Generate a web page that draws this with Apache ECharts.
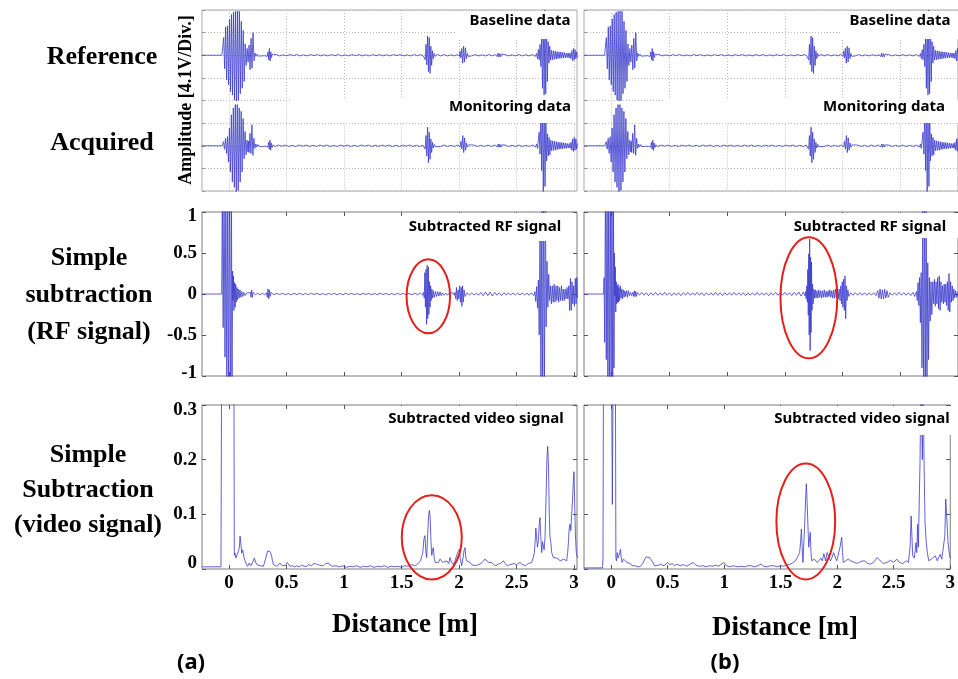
<!DOCTYPE html>
<html><head><meta charset="utf-8">
<script src="https://cdn.jsdelivr.net/npm/echarts@6/dist/echarts.min.js"></script>
<style>html,body{margin:0;padding:0;background:#fff}#c{width:958px;height:679px}</style>
</head><body><div id="c"></div>
<script>
// ---------------- data (x in metres) ----------------
const xTicks = [0, 0.5, 1, 1.5, 2, 2.5, 3];
const rfTicks = [-1, -0.5, 0, 0.5, 1];
const videoTicks = [0, 0.1, 0.2, 0.3];

// Baseline trace (amplitude in divisions)
const refSig = [[-0.24,0],[-0.062,0],[-0.055,0],[-0.0465,0.78],[-0.038,-0.6],[-0.0295,1.25],[-0.021,-1.1],[-0.0125,1.3],[-0.004,-1.3],[0.0045,1.6],[0.013,-1.6],[0.0215,1.8],[0.03,-1.76],[0.0385,1.9],[0.047,-1.98],[0.0555,1.94],[0.064,-2.06],[0.0725,1.95],[0.081,-2.0],[0.0895,1.94],[0.098,-1.7],[0.1065,1.5],[0.115,-1.46],[0.1235,1.1],[0.132,-1.16],[0.1405,0.5],[0.149,-0.45],[0.1575,0.3],[0.166,-0.3],[0.1745,0.45],[0.183,-0.64],[0.1915,0.75],[0.2,-0.57],[0.2085,1.0],[0.217,-0.25],[0.225,0.1],[0.234,-0.05],[0.245,0.05],[0.255,-0.04],[0.268,0.03],[0.282,-0.03],[0.296,0.03],[0.31,-0.02],[0.323,0.03],[0.333,-0.05],[0.339,0.15],[0.345,-0.2],[0.351,0.3],[0.357,-0.25],[0.363,0.15],[0.369,-0.1],[0.376,0.05],[0.386,-0.03],
[0.41,0.03],[0.44,-0.03],[0.47,0.02],[0.5,-0.03],[0.53,0.03],[0.56,-0.02],[0.59,0.03],[0.62,-0.03],[0.65,0.02],[0.68,-0.03],[0.71,0.03],[0.74,-0.02],[0.77,0.03],[0.8,-0.03],[0.83,0.02],[0.86,-0.03],[0.89,0.03],[0.92,-0.02],[0.95,0.03],[0.98,-0.03],[1.01,0.02],[1.04,-0.03],[1.07,0.03],[1.1,-0.02],[1.13,0.03],[1.16,-0.03],[1.19,0.02],[1.22,-0.03],[1.25,0.03],[1.28,-0.02],[1.31,0.03],[1.34,-0.03],[1.37,0.02],[1.4,-0.03],[1.43,0.03],[1.46,-0.02],[1.49,0.03],[1.52,-0.03],[1.55,0.02],[1.58,-0.03],[1.61,0.03],[1.64,-0.02],[1.67,0.03],[1.69,-0.03],
[1.7,0.05],[1.706,-0.2],[1.713,0.48],[1.72,-0.42],[1.727,0.85],[1.734,-0.72],[1.741,0.78],[1.748,-0.8],[1.755,0.4],[1.762,-0.45],[1.769,0.2],[1.776,-0.15],[1.784,0.08],[1.794,-0.05],[1.81,0.04],
[1.84,-0.03],[1.87,0.03],[1.9,-0.03],[1.93,0.02],[1.96,-0.03],[1.985,0.03],
[2.003,-0.05],[2.009,0.18],[2.016,-0.12],[2.024,0.3],[2.032,-0.35],[2.04,0.4],[2.048,-0.3],[2.056,0.33],[2.064,-0.15],[2.072,0.08],[2.08,-0.05],[2.09,0.03],
[2.11,-0.03],[2.14,0.03],[2.17,-0.03],[2.2,0.02],[2.23,-0.03],[2.26,0.03],[2.29,-0.03],[2.315,0.03],
[2.33,-0.06],[2.338,0.09],[2.346,-0.08],[2.354,0.08],[2.362,-0.07],[2.37,0.05],[2.38,-0.03],
[2.4,0.03],[2.43,-0.03],[2.46,0.02],[2.49,-0.03],[2.52,0.03],[2.55,-0.03],[2.58,0.02],[2.61,-0.03],[2.64,0.03],[2.665,-0.05],
[2.675,0.08],[2.682,-0.15],[2.69,0.25],[2.697,-0.2],[2.7045,0.48],[2.712,-0.5],[2.719,0.9],[2.726,-1.46],[2.733,1.6],[2.74,-1.76],[2.747,2.0],[2.754,-1.7],[2.761,1.6],[2.768,-1.16],[2.775,0.6],[2.782,-0.35],[2.789,0.4],
[2.797,-0.22],[2.805,0.22],[2.813,-0.2],[2.821,0.2],[2.829,-0.18],[2.837,0.18],[2.845,-0.17],[2.853,0.16],[2.861,-0.15],[2.869,0.15],[2.877,-0.14],[2.885,0.14],[2.893,-0.13],[2.901,0.13],[2.909,-0.12],[2.917,0.12],[2.925,-0.12],[2.933,0.1],[2.941,-0.1],[2.949,0.1],[2.957,-0.12],
[2.965,0.1],[2.973,-0.15],[2.981,0.2],[2.988,-0.25],[2.995,0.3],[3.002,-0.2],[3.009,0.25],[3.016,-0.15],[3.023,0.15],[3.03,-0.1]];

// Monitoring trace (amplitude in divisions)
const monSig = [[-0.24,0],[-0.06,0],[-0.056,0],[-0.0475,0.18],[-0.039,-0.15],[-0.0305,0.33],[-0.022,-0.34],[-0.0135,0.4],[-0.005,-0.72],[0.0035,0.78],[0.012,-1.16],[0.0205,1.37],[0.029,-1.6],[0.0375,1.67],[0.046,-1.84],[0.0545,1.82],[0.063,-2.06],[0.0715,1.82],[0.08,-1.97],[0.0885,1.67],[0.097,-1.6],[0.1055,1.52],[0.114,-1.16],[0.1225,1.2],[0.131,-0.57],[0.1395,0.63],[0.148,-0.4],[0.1565,0.25],[0.165,-0.27],[0.1695,0.2],[0.1735,-0.3],[0.182,0.55],[0.1905,-0.34],[0.199,0.93],[0.2075,-0.42],[0.216,0.33],[0.2245,-0.12],[0.233,0.08],[0.242,-0.05],[0.252,0.05],[0.262,-0.04],[0.275,0.03],[0.29,-0.03],[0.305,0.03],[0.318,-0.02],[0.33,0.03],[0.338,-0.06],[0.344,0.15],[0.35,-0.15],[0.356,0.25],[0.362,-0.2],[0.368,0.12],[0.374,-0.08],[0.382,0.04],
[0.4,-0.03],[0.43,0.03],[0.46,-0.02],[0.49,0.03],[0.52,-0.03],[0.55,0.02],[0.58,-0.03],[0.61,0.03],[0.64,-0.02],[0.67,0.03],[0.7,-0.03],[0.73,0.02],[0.76,-0.03],[0.79,0.03],[0.82,-0.02],[0.85,0.03],[0.88,-0.03],[0.91,0.02],[0.94,-0.03],[0.97,0.03],[1.0,-0.02],[1.03,0.03],[1.06,-0.03],[1.09,0.02],[1.12,-0.03],[1.15,0.03],[1.18,-0.02],[1.21,0.03],[1.24,-0.03],[1.27,0.02],[1.3,-0.03],[1.33,0.03],[1.36,-0.02],[1.39,0.03],[1.42,-0.03],[1.45,0.02],[1.48,-0.03],[1.51,0.03],[1.54,-0.02],[1.57,0.03],[1.6,-0.03],[1.63,0.02],[1.66,-0.03],[1.685,0.03],
[1.7,0.05],[1.706,-0.15],[1.713,0.45],[1.72,-0.45],[1.727,0.82],[1.734,-0.75],[1.741,0.6],[1.748,-0.6],[1.755,0.3],[1.762,-0.3],[1.769,0.15],[1.776,-0.1],[1.785,0.06],[1.795,-0.04],[1.81,0.03],
[1.84,-0.03],[1.87,0.03],[1.9,-0.03],[1.93,0.02],[1.96,-0.03],[1.99,0.03],
[2.01,-0.05],[2.017,0.2],[2.025,-0.15],[2.033,0.45],[2.041,-0.3],[2.049,0.35],[2.057,-0.2],[2.065,0.12],[2.073,-0.06],[2.083,0.04],
[2.1,-0.03],[2.13,0.03],[2.16,-0.03],[2.19,0.02],[2.22,-0.03],[2.25,0.03],[2.28,-0.03],[2.31,0.03],
[2.332,-0.05],[2.34,0.08],[2.348,-0.07],[2.356,0.07],[2.364,-0.06],[2.372,0.04],[2.382,-0.03],
[2.4,0.03],[2.43,-0.03],[2.46,0.02],[2.49,-0.03],[2.52,0.03],[2.55,-0.03],[2.58,0.02],[2.61,-0.03],[2.64,0.03],[2.665,-0.05],
[2.675,0.08],[2.682,-0.12],[2.689,0.2],[2.697,0.6],[2.7045,-0.37],[2.712,1.5],[2.719,-1.1],[2.726,2.0],[2.733,-2.2],[2.74,2.0],[2.748,-1.8],[2.755,1.5],[2.762,-0.67],[2.769,0.52],[2.776,-0.45],[2.783,0.37],[2.79,-0.4],
[2.798,0.25],[2.806,-0.22],[2.814,0.22],[2.822,-0.2],[2.83,0.2],[2.838,-0.2],[2.846,0.18],[2.854,-0.17],[2.862,0.16],[2.87,-0.15],[2.878,0.15],[2.886,-0.14],[2.894,0.14],[2.902,-0.13],[2.91,0.13],[2.918,-0.12],[2.926,0.12],[2.934,-0.12],[2.942,0.1],[2.95,-0.1],[2.958,0.1],[2.966,-0.12],
[2.974,0.15],[2.981,-0.2],[2.988,0.3],[2.995,-0.25],[3.002,0.37],[3.009,-0.2],[3.016,0.3],[3.023,-0.15],[3.03,0.1]];

// Subtracted RF signal, panel (a)
const rfA = [[-0.235,0],[-0.064,0],[-0.058,1.3],[-0.051,-0.41],[-0.043,1.4],[-0.035,-0.77],[-0.027,1.4],[-0.019,-1.4],[-0.011,1.4],[-0.003,-1.4],[0.005,1.4],[0.013,-1.4],[0.021,1.3],[0.026,-1.2],[0.031,0.28],[0.035,-0.08],[0.039,0.22],[0.043,-0.2],[0.048,0.14],[0.053,-0.16],[0.058,0.12],[0.063,-0.1],[0.069,0.08],[0.075,-0.07],[0.081,0.06],[0.088,-0.05],[0.095,0.05],[0.103,-0.04],[0.111,0.03],[0.12,-0.03],[0.13,0.02],[0.14,-0.02],[0.155,0.012],[0.17,-0.01],
[0.185,0.02],[0.191,-0.04],[0.197,0.05],[0.203,-0.04],[0.21,0.02],[0.23,-0.01],[0.25,0.01],[0.27,-0.01],[0.29,0.01],[0.31,-0.01],[0.325,0.015],
[0.333,-0.04],[0.339,0.06],[0.345,-0.06],[0.351,0.05],[0.357,-0.03],[0.365,0.02],
[0.39,-0.008],[0.415,0.008],[0.44,-0.006],[0.465,0.009],[0.49,-0.008],[0.515,0.006],[0.54,-0.009],[0.565,0.008],[0.59,-0.006],[0.615,0.008],[0.64,-0.009],[0.665,0.006],[0.69,-0.008],[0.715,0.009],[0.74,-0.006],[0.765,0.008],[0.79,-0.008],[0.815,0.006],[0.84,-0.009],[0.865,0.008],[0.89,-0.006],[0.915,0.008],[0.94,-0.009],[0.965,0.006],[0.99,-0.008],[1.015,0.009],[1.04,-0.006],[1.065,0.008],[1.09,-0.008],[1.115,0.006],[1.14,-0.009],[1.165,0.008],[1.19,-0.006],[1.215,0.008],[1.24,-0.009],[1.265,0.006],[1.29,-0.008],[1.315,0.009],[1.34,-0.006],[1.365,0.008],[1.39,-0.008],[1.415,0.006],[1.44,-0.009],[1.465,0.008],[1.49,-0.006],[1.515,0.008],[1.54,-0.009],[1.565,0.006],[1.59,-0.008],[1.615,0.01],[1.64,-0.01],[1.665,0.012],[1.685,-0.015],
[1.692,0.02],[1.698,-0.05],[1.703,0.26],[1.708,-0.16],[1.713,0.3],[1.718,-0.37],[1.723,0.35],[1.728,-0.3],[1.733,0.33],[1.738,-0.25],[1.743,0.15],[1.748,-0.16],[1.753,0.1],[1.758,-0.08],[1.764,0.06],[1.77,-0.05],[1.777,0.04],[1.785,-0.04],[1.795,0.03],[1.805,-0.03],[1.815,0.03],[1.825,-0.025],[1.835,0.025],[1.845,-0.02],
[1.855,0.015],[1.87,-0.015],[1.885,0.012],[1.9,-0.015],[1.915,0.012],[1.93,-0.012],[1.945,0.015],[1.958,-0.015],
[1.965,0.02],[1.972,-0.06],[1.978,0.08],[1.985,-0.08],[1.992,0.05],[1.999,-0.06],[2.006,0.1],[2.012,-0.1],[2.019,0.08],[2.025,-0.15],[2.031,0.1],[2.037,-0.1],[2.044,0.05],[2.052,-0.03],
[2.07,0.012],[2.09,-0.01],[2.11,0.012],[2.13,-0.012],[2.15,0.01],[2.17,-0.015],[2.19,0.02],[2.21,-0.02],[2.23,0.025],[2.25,-0.02],[2.27,0.025],[2.29,-0.025],[2.31,0.02],[2.33,-0.015],[2.35,0.015],[2.37,-0.02],[2.39,0.015],[2.41,-0.01],[2.43,0.012],[2.45,-0.01],[2.47,0.01],[2.49,-0.012],[2.51,0.01],[2.53,-0.01],[2.55,0.012],[2.57,-0.01],[2.59,0.01],[2.61,-0.015],[2.63,0.015],[2.65,-0.02],
[2.66,0.03],[2.6675,-0.09],[2.675,0.09],[2.6825,-0.17],[2.69,0.17],[2.6975,-0.5],[2.705,0.9],[2.7125,-1.3],[2.72,1.2],[2.7275,-1.3],[2.735,1.3],[2.7425,-1.3],[2.75,1.4],[2.7575,-0.4],[2.765,0.4],[2.7725,-0.16],[2.78,0.24],[2.787,-0.08],
[2.795,0.1],[2.803,-0.12],[2.811,0.1],[2.819,-0.1],[2.827,0.12],[2.835,-0.1],[2.843,0.1],[2.851,-0.08],[2.859,0.1],[2.867,-0.1],[2.875,0.08],[2.883,-0.08],[2.891,0.1],[2.899,-0.08],[2.907,0.06],[2.915,-0.08],[2.923,0.06],[2.931,-0.06],[2.939,0.08],[2.947,-0.06],[2.955,0.1],
[2.962,-0.2],[2.969,0.19],[2.976,-0.2],[2.983,0.15],[2.99,-0.12],[2.997,0.1],[3.004,-0.15],[3.011,0.19],[3.018,-0.12],[3.025,0.2],[3.03,-0.05]];

// Subtracted RF signal, panel (b)
const rfB = [[-0.24,0],[-0.07,0],[-0.066,0.2],[-0.061,-0.59],[-0.054,1.4],[-0.047,-0.8],[-0.04,1.4],[-0.033,-1.4],[-0.026,1.4],[-0.019,-1.4],[-0.012,1.4],[-0.005,-1.4],[0.002,1.4],[0.009,-1.4],[0.015,1.3],[0.02,-0.9],[0.024,0.5],[0.027,-0.02],[0.031,0.33],[0.035,-0.22],[0.039,0.15],[0.043,-0.12],[0.047,0.1],[0.051,-0.1],[0.055,0.12],[0.059,-0.1],[0.064,0.08],[0.069,-0.08],[0.075,0.1],[0.081,-0.05],[0.087,0.06],[0.093,-0.06],[0.1,0.05],[0.107,-0.04],[0.114,0.04],[0.121,-0.03],[0.129,0.04],[0.137,-0.04],[0.145,0.04],[0.153,-0.02],[0.163,0.02],[0.173,-0.02],[0.183,0.02],[0.19,-0.03],[0.196,0.04],[0.202,-0.03],[0.208,0.03],[0.214,-0.03],[0.222,0.02],
[0.24,-0.015],[0.26,0.02],[0.28,-0.015],[0.3,0.015],[0.32,-0.02],[0.34,0.015],[0.36,-0.015],[0.38,0.02],[0.4,-0.015],[0.42,0.015],[0.44,-0.015],[0.46,0.02],[0.48,-0.015],[0.5,0.015],[0.52,-0.02],[0.54,0.015],[0.56,-0.015],[0.58,0.015],[0.6,-0.02],[0.62,0.015],[0.64,-0.015],[0.66,0.02],[0.68,-0.015],[0.7,0.015],[0.72,-0.015],[0.74,0.02],[0.76,-0.015],[0.78,0.015],[0.8,-0.02],[0.82,0.015],[0.84,-0.015],[0.86,0.015],[0.88,-0.015],[0.9,0.02],[0.92,-0.015],[0.94,0.015],[0.96,-0.02],[0.98,0.015],[1.0,-0.015],[1.02,0.015],[1.04,-0.015],[1.06,0.02],[1.08,-0.015],[1.1,0.015],[1.12,-0.015],[1.14,0.015],[1.16,-0.02],[1.18,0.015],[1.2,-0.015],[1.22,0.015],[1.24,-0.015],[1.26,0.02],[1.28,-0.015],[1.3,0.015],[1.32,-0.015],[1.34,0.015],[1.36,-0.02],[1.38,0.015],[1.4,-0.015],[1.42,0.02],[1.44,-0.015],[1.46,0.015],[1.48,-0.015],[1.5,0.02],[1.52,-0.015],[1.54,0.015],[1.56,-0.02],[1.58,0.02],[1.6,-0.015],[1.62,0.025],[1.64,-0.025],[1.66,0.025],[1.675,-0.025],
[1.68,0.03],[1.685,-0.06],[1.69,0.1],[1.695,-0.1],[1.699,0.3],[1.703,-0.26],[1.707,0.49],[1.711,-0.5],[1.715,0.67],[1.719,-0.69],[1.723,0.45],[1.727,-0.47],[1.731,0.39],[1.735,-0.2],[1.74,0.12],[1.745,-0.12],[1.751,0.06],[1.757,-0.05],[1.763,0.05],[1.77,-0.05],[1.778,0.04],[1.786,-0.05],[1.794,0.05],[1.802,-0.04],[1.81,0.04],[1.818,-0.05],[1.826,0.04],[1.834,-0.04],[1.842,0.05],[1.85,-0.04],[1.858,0.03],[1.866,-0.04],[1.874,0.04],[1.882,-0.03],[1.89,0.05],[1.898,-0.04],[1.906,0.04],[1.914,-0.05],[1.922,0.05],[1.93,-0.05],[1.938,0.06],[1.946,-0.05],[1.954,0.06],[1.962,-0.06],
[1.97,0.06],[1.978,-0.08],[1.985,0.1],[1.991,-0.12],[1.997,0.15],[2.003,-0.16],[2.009,0.18],[2.015,-0.2],[2.021,0.22],[2.027,-0.3],[2.033,0.1],[2.039,-0.08],[2.046,0.05],[2.054,-0.03],
[2.07,0.015],[2.09,-0.015],[2.11,0.015],[2.13,-0.015],[2.15,0.015],[2.17,-0.015],[2.19,0.015],[2.21,-0.015],[2.23,0.015],[2.25,-0.015],[2.27,0.015],[2.29,-0.02],[2.305,0.04],[2.315,-0.05],[2.325,0.06],[2.335,-0.06],[2.345,0.05],[2.355,-0.06],[2.365,0.06],[2.375,-0.05],[2.385,0.04],[2.395,-0.04],[2.41,0.015],[2.43,-0.015],[2.45,0.015],[2.47,-0.015],[2.49,0.02],[2.51,-0.015],[2.53,0.015],[2.55,-0.015],[2.57,0.015],[2.59,-0.02],[2.61,0.02],[2.625,-0.03],
[2.64,0.03],[2.647,-0.08],[2.654,0.14],[2.661,-0.14],[2.667,0.2],[2.674,-0.35],[2.681,0.26],[2.688,-0.9],[2.695,1.2],[2.703,-1.3],[2.71,1.3],[2.717,-1.3],[2.724,1.3],[2.731,-1.1],[2.738,0.38],[2.745,-0.8],[2.752,0.2],[2.759,-0.33],[2.766,0.15],[2.773,-0.25],
[2.782,0.15],[2.789,-0.12],[2.796,0.18],[2.803,-0.15],[2.81,0.15],[2.817,-0.12],[2.824,0.2],[2.831,-0.18],[2.838,0.22],[2.845,-0.2],[2.852,0.15],[2.859,-0.1],[2.866,0.1],[2.873,-0.12],[2.88,0.12],[2.887,-0.1],[2.894,0.12],[2.901,-0.14],[2.908,0.15],[2.915,-0.2],[2.922,0.25],[2.929,-0.22],[2.936,0.15],[2.943,-0.1],[2.95,0.1],[2.957,-0.08],[2.964,0.06],[2.972,-0.05],[2.98,0.04],[2.99,-0.04],[3.0,0.03]];

// Subtracted video signal, panel (a)
const vidA = [[-0.235,0.004],[-0.07,0.004],[-0.064,0.4],[-0.058,0.9],[-0.04,1.2],[-0.02,0.8],[0.0,1.0],[0.02,0.7],[0.04,0.6],[0.046,0.025],[0.052,0.029],[0.06,0.02],[0.067,0.023],[0.074,0.018],[0.081,0.032],[0.09,0.04],[0.096,0.06],[0.101,0.059],[0.106,0.04],[0.11,0.029],[0.118,0.035],[0.125,0.035],[0.132,0.02],[0.139,0.017],[0.146,0.011],[0.154,0.011],[0.161,0.005],[0.168,0.006],[0.176,0.011],[0.183,0.011],[0.19,0.006],[0.197,0.007],[0.205,0.012],[0.212,0.011],[0.22,0.02],[0.226,0.022],[0.233,0.012],[0.241,0.008],[0.248,0.005],[0.255,0.005],[0.27,0.006],[0.285,0.005],[0.299,0.005],[0.306,0.01],[0.313,0.013],[0.32,0.02],[0.328,0.023],[0.335,0.033],[0.342,0.036],[0.35,0.035],[0.357,0.032],[0.364,0.028],[0.371,0.023],[0.378,0.015],[0.386,0.008],[0.4,0.006],[0.414,0.005],[0.43,0.008],[0.443,0.011],[0.457,0.007],[0.472,0.008],[0.49,0.006],[0.507,0.012],[0.52,0.009],[0.53,0.005],[0.55,0.006],[0.57,0.004],[0.588,0.006],[0.61,0.004],[0.63,0.007],[0.646,0.005],[0.67,0.004],[0.69,0.008],[0.704,0.008],[0.72,0.006],[0.735,0.01],[0.748,0.012],[0.76,0.009],[0.777,0.008],[0.8,0.006],[0.82,0.006],[0.84,0.01],[0.864,0.011],[0.88,0.007],
[0.9,0.005],[0.93,0.006],[0.96,0.004],[0.99,0.006],[1.02,0.003],[1.05,0.005],[1.08,0.004],[1.11,0.006],[1.14,0.003],[1.17,0.005],[1.2,0.004],[1.23,0.006],[1.26,0.003],[1.29,0.005],[1.32,0.004],[1.35,0.006],[1.38,0.003],[1.41,0.005],[1.44,0.004],[1.47,0.005],[1.5,0.003],[1.53,0.006],[1.56,0.005],[1.59,0.008],[1.62,0.006],[1.645,0.01],[1.665,0.015],[1.675,0.015],
[1.685,0.03],[1.695,0.055],[1.704,0.061],[1.712,0.03],[1.719,0.021],[1.727,0.06],[1.735,0.095],[1.742,0.107],[1.749,0.095],[1.756,0.05],[1.763,0.025],[1.77,0.035],[1.777,0.039],[1.784,0.02],[1.792,0.012],[1.806,0.015],[1.82,0.012],[1.835,0.018],[1.849,0.021],[1.86,0.012],[1.875,0.015],[1.893,0.015],[1.91,0.01],[1.922,0.021],[1.935,0.012],[1.95,0.008],[1.965,0.015],[1.98,0.025],[1.992,0.032],[2.003,0.036],[2.01,0.02],[2.023,0.006],[2.035,0.02],[2.045,0.035],[2.052,0.039],[2.06,0.02],[2.067,0.015],[2.08,0.012],[2.096,0.012],[2.11,0.008],[2.125,0.005],[2.14,0.006],[2.154,0.006],[2.17,0.008],[2.19,0.01],[2.21,0.014],[2.225,0.018],[2.241,0.02],[2.26,0.012],[2.284,0.012],[2.3,0.008],[2.32,0.006],[2.342,0.009],[2.36,0.01],[2.386,0.015],[2.4,0.01],[2.42,0.006],[2.444,0.008],[2.46,0.006],[2.48,0.01],[2.5,0.008],[2.53,0.012],[2.55,0.008],[2.58,0.006],[2.6,0.01],[2.617,0.009],[2.632,0.012],[2.646,0.021],[2.655,0.03],[2.662,0.05],[2.668,0.075],[2.675,0.076],[2.682,0.04],[2.69,0.052],[2.697,0.08],[2.704,0.094],[2.711,0.06],[2.719,0.03],[2.726,0.05],[2.733,0.052],[2.74,0.035],[2.748,0.058],[2.757,0.13],[2.764,0.2],[2.771,0.224],[2.778,0.19],[2.785,0.1],[2.791,0.058],[2.798,0.05],[2.806,0.03],[2.82,0.021],[2.835,0.018],[2.85,0.02],[2.864,0.021],[2.88,0.015],[2.893,0.012],[2.91,0.018],[2.925,0.02],[2.936,0.015],[2.945,0.03],[2.952,0.05],[2.958,0.075],[2.965,0.082],[2.972,0.07],[2.98,0.1],[2.988,0.13],[2.994,0.16],[3.0,0.178],[3.006,0.12],[3.012,0.064],[3.02,0.03],[3.03,0.02]];

// Subtracted video signal, panel (b)
const vidB = [[-0.24,0.002],[-0.076,0.002],[-0.072,0.02],[-0.066,0.5],[-0.04,0.9],[-0.015,0.7],[0.0,0.5],[0.007,0.25],[0.011,0.118],[0.016,0.3],[0.022,0.8],[0.032,0.6],[0.038,0.35],[0.042,0.02],[0.048,0.015],[0.054,0.03],[0.062,0.02],[0.07,0.025],[0.083,0.036],[0.09,0.02],[0.097,0.012],[0.11,0.018],[0.126,0.018],[0.14,0.012],[0.154,0.012],[0.17,0.01],[0.184,0.006],[0.197,0.009],[0.21,0.006],[0.226,0.006],[0.24,0.004],[0.26,0.005],[0.28,0.01],[0.297,0.018],[0.31,0.022],[0.326,0.024],[0.34,0.021],[0.354,0.021],[0.37,0.012],[0.383,0.006],[0.4,0.005],[0.42,0.007],[0.44,0.009],[0.46,0.006],[0.48,0.008],[0.497,0.012],[0.52,0.008],[0.54,0.01],[0.56,0.006],[0.583,0.009],[0.61,0.006],[0.64,0.008],[0.67,0.005],[0.7,0.009],[0.726,0.012],[0.75,0.007],[0.78,0.005],[0.811,0.006],[0.84,0.004],[0.87,0.006],[0.9,0.005],[0.926,0.007],[0.95,0.005],[0.97,0.008],[0.997,0.012],[1.02,0.006],[1.05,0.004],[1.08,0.006],[1.097,0.006],[1.12,0.004],[1.15,0.005],[1.18,0.004],[1.21,0.006],[1.24,0.006],[1.27,0.004],[1.3,0.006],[1.325,0.009],[1.35,0.005],[1.38,0.004],[1.41,0.006],[1.44,0.006],[1.47,0.004],[1.5,0.006],[1.53,0.005],[1.554,0.009],[1.58,0.008],[1.611,0.012],[1.63,0.015],[1.654,0.024],[1.668,0.03],[1.676,0.05],[1.683,0.073],[1.69,0.04],[1.697,0.012],[1.703,0.012],[1.712,0.08],[1.72,0.125],[1.727,0.156],[1.734,0.12],[1.741,0.08],[1.748,0.04],[1.755,0.055],[1.762,0.067],[1.768,0.03],[1.775,0.015],[1.782,0.012],[1.797,0.018],[1.811,0.018],[1.825,0.012],[1.839,0.012],[1.855,0.02],[1.868,0.015],[1.882,0.028],[1.897,0.015],[1.91,0.03],[1.925,0.03],[1.94,0.015],[1.954,0.021],[1.968,0.03],[1.982,0.03],[1.996,0.015],[2.011,0.018],[2.025,0.04],[2.04,0.058],[2.047,0.03],[2.054,0.012],[2.075,0.015],[2.097,0.018],[2.12,0.015],[2.154,0.012],[2.18,0.01],[2.21,0.014],[2.24,0.015],[2.27,0.01],[2.297,0.009],[2.32,0.012],[2.354,0.021],[2.38,0.015],[2.41,0.01],[2.44,0.012],[2.47,0.016],[2.5,0.012],[2.526,0.018],[2.55,0.012],[2.58,0.01],[2.611,0.015],[2.63,0.012],[2.645,0.04],[2.654,0.097],[2.661,0.06],[2.668,0.024],[2.682,0.02],[2.697,0.048],[2.704,0.03],[2.711,0.082],[2.718,0.04],[2.725,0.042],[2.733,0.2],[2.74,0.35],[2.746,0.3],[2.753,0.2],[2.76,0.35],[2.768,0.2],[2.777,0.085],[2.787,0.05],[2.797,0.03],[2.81,0.015],[2.826,0.012],[2.845,0.02],[2.868,0.024],[2.885,0.015],[2.911,0.027],[2.925,0.018],[2.94,0.018],[2.952,0.06],[2.96,0.128],[2.968,0.1],[2.98,0.05],[2.99,0.03],[3.0,0.02]];

// red ellipse annotations: [centre x (m), centre y, radius x (m), radius y]
const ellipseRfA = [1.733, -0.028, 0.189, 0.451];
const ellipseVidA = [1.763, 0.058, 0.261, 0.077];
const ellipseRfB = [1.708, -0.046, 0.246, 0.738];
const ellipseVidB = [1.722, 0.087, 0.26, 0.106];

// text
const rowLabels = [['Reference'], ['Acquired'], ['Simple', 'subtraction', '(RF signal)'], ['Simple', 'Subtraction', '(video signal)']];
const traceLabels = ['Baseline data', 'Monitoring data', 'Subtracted RF signal', 'Subtracted video signal'];
const xTitle = 'Distance [m]';
const yTitle = 'Amplitude [4.1V/Div.]';
const panelTags = ['(a)', '(b)'];

// ---------------- chart ----------------
const SERIF = 'Liberation Serif';
const SANS = 'Noto Sans';
const LINE = '#3a3acc';
const grids = [], xAxes = [], yAxes = [], series = [];
const tickStyle = {color: '#555', width: 1};
const noLine = {show: false, onZero: false};

function lineSeries(data, xi, yi) {
  return {type: 'line', xAxisIndex: xi, yAxisIndex: yi, data: data, showSymbol: false, symbol: 'none',
    lineStyle: {color: LINE, width: 0.8}, clip: true, silent: true, animation: false, z: 3};
}
function frameGrid(l, t, w, h, color) {
  grids.push({left: l, top: t, width: w, height: h, show: true, borderColor: color, borderWidth: 1, backgroundColor: 'transparent'});
  const g = grids.length - 1;
  xAxes.push({gridIndex: g, type: 'value', show: false, min: 0, max: 1, axisLine: noLine});
  yAxes.push({gridIndex: g, type: 'value', show: false, min: 0, max: 1, axisLine: noLine});
}
function topHalf(l, t, w, h, xr, data) {
  grids.push({left: l, top: t, width: w, height: h, show: false});
  const g = grids.length - 1;
  const dotted = {show: true, lineStyle: {type: [1, 2], color: '#b8b8b8', width: 1}};
  xAxes.push({gridIndex: g, type: 'value', min: xr[0], max: xr[1], position: 'bottom', axisLine: noLine,
    axisTick: {show: false, customValues: xTicks},
    axisLabel: {show: false}, splitLine: dotted});
  yAxes.push({gridIndex: g, type: 'value', min: -2, max: 2, interval: 1, position: 'left', axisLine: noLine,
    axisTick: {show: true, inside: true, length: 3, lineStyle: {color: '#999'}},
    axisLabel: {show: false}, splitLine: dotted});
  series.push(lineSeries(data, xAxes.length - 1, yAxes.length - 1));
  return g;
}
function fmtNum(v) { return String(+v.toFixed(6)); }
function mainPanel(l, t, w, h, xr, yr, yint, data, showY, showX, edgeShift) {
  grids.push({left: l, top: t, width: w, height: h, show: true, borderColor: '#7c7c7c', borderWidth: 1, backgroundColor: 'transparent'});
  const g = grids.length - 1;
  const xi = xAxes.length;
  const lab = {fontFamily: SERIF, fontWeight: 'bold', fontSize: 19, color: '#000'};
  xAxes.push({gridIndex: g, type: 'value', min: xr[0], max: xr[1], position: 'bottom', axisLine: noLine,
    axisTick: {show: true, inside: true, length: 4, customValues: xTicks, lineStyle: tickStyle},
    axisLabel: Object.assign({show: showX, customValues: xTicks, margin: 5}, lab), splitLine: {show: false}});
  xAxes.push({gridIndex: g, type: 'value', min: xr[0], max: xr[1], position: 'top', axisLine: noLine,
    axisTick: {show: true, inside: true, length: 4, customValues: xTicks, lineStyle: tickStyle},
    axisLabel: {show: false}, splitLine: {show: false}});
  const yi = yAxes.length;
  const richBase = {fontFamily: SERIF, fontWeight: 'bold', fontSize: 19, color: '#000'};
  yAxes.push({gridIndex: g, type: 'value', min: yr[0], max: yr[1], interval: yint, position: 'left', axisLine: noLine,
    axisTick: {show: true, inside: true, length: 4, lineStyle: tickStyle},
    axisLabel: Object.assign({show: showY, margin: 5,
      formatter: function (v) {
        const s = fmtNum(v);
        if (Math.abs(v - yr[1]) < 1e-9) return '{t|' + s + '}';
        if (Math.abs(v - yr[0]) < 1e-9) return '{b|' + s + '}';
        return s;
      },
      rich: {t: Object.assign({padding: [edgeShift[0] * 2, 0, 0, 0]}, richBase),
             b: Object.assign({padding: [0, 0, edgeShift[1] * 2, 0]}, richBase)}}, lab),
    splitLine: {show: false}});
  yAxes.push({gridIndex: g, type: 'value', min: yr[0], max: yr[1], interval: yint, position: 'right', axisLine: noLine,
    axisTick: {show: true, inside: true, length: 4, lineStyle: tickStyle},
    axisLabel: {show: false}, splitLine: {show: false}});
  series.push(lineSeries(data, xi, yi));
  return {xi: xi, yi: yi};
}

const xrA = [-0.235, 3.026], xrB = [-0.24, 3.0];
const rfRange = [rfTicks[0], rfTicks[rfTicks.length - 1]];
const vidRange = [videoTicks[0], videoTicks[videoTicks.length - 1]];

frameGrid(202, 10, 375, 181, '#a9a9a9');
frameGrid(584, 10, 378, 181, '#a9a9a9');
topHalf(202, 10, 375, 90.5, xrA, refSig);
topHalf(202, 100.5, 375, 90.5, xrA, monSig);
topHalf(584, 10, 378, 90.5, xrB, refSig);
topHalf(584, 100.5, 378, 90.5, xrB, monSig);
const pRfA = mainPanel(202, 212, 375, 164, xrA, rfRange, 0.5, rfA, true, false, [4, 3]);
const pVidA = mainPanel(202, 405, 375, 164, xrA, vidRange, 0.1, vidA, true, true, [5, 6]);
const pRfB = mainPanel(584, 212, 378, 164, xrB, rfRange, 0.5, rfB, false, false, [0, 0]);
const pVidB = mainPanel(584, 405, 378, 164, xrB, vidRange, 0.1, vidB, false, true, [0, 0]);

const chart = echarts.init(document.getElementById('c'), null, {renderer: 'canvas'});
chart.setOption({animation: false, backgroundColor: '#fff', grid: grids, xAxis: xAxes, yAxis: yAxes, series: series});

// ---------- annotations ----------
const g = [];
function txt(x, y, s, font, opts) {
  g.push(Object.assign({type: 'text', x: x, y: y, z: 101, silent: true,
    style: {text: s, font: font, fill: '#000', align: 'center', verticalAlign: 'middle'}}, opts || {}));
}
function box(x, y, w, h) {
  g.push({type: 'rect', z: 100, silent: true, shape: {x: x, y: y, width: w, height: h}, style: {fill: '#fff'}});
}
const rowFont = 'bold 26px "' + SERIF + '"';
txt(102, 57, rowLabels[0][0], rowFont);
txt(102, 143, rowLabels[1][0], rowFont);
[258, 295, 332].forEach((y, i) => txt(89, y, rowLabels[2][i], rowFont));
[455, 490, 525].forEach((y, i) => txt(88, y, rowLabels[3][i], rowFont));
txt(186, 100, yTitle, 'bold 18px "' + SERIF + '"', {rotation: Math.PI / 2});
txt(405, 625, xTitle, 'bold 27px "' + SERIF + '"');
txt(785, 628, xTitle, 'bold 27px "' + SERIF + '"');
txt(191, 663, panelTags[0], 'bold 22px "' + SANS + '"');
txt(725, 663, panelTags[1], 'bold 22px "' + SANS + '"');

const lblFont = 'bold 15px "' + SANS + '"';
// panel (a) label boxes
box(457, 11, 119, 28); txt(520, 21, traceLabels[0], lblFont);
box(290, 100, 286, 23); txt(510, 107, traceLabels[1], lblFont);
box(403, 213, 173, 28); txt(485, 227, traceLabels[2], lblFont);
box(383, 406, 193, 26); txt(476, 419, traceLabels[3], lblFont);
// panel (b) label boxes
box(840, 11, 122, 28); txt(900, 21, traceLabels[0], lblFont);
box(664, 100, 298, 23); txt(884, 107, traceLabels[1], lblFont);
box(788, 213, 174, 25); txt(870, 227, traceLabels[2], lblFont);
box(770, 406, 192, 29); txt(862, 419, traceLabels[3], lblFont);

function ellipse(p, e) {
  const c = chart.convertToPixel({xAxisIndex: p.xi, yAxisIndex: p.yi}, [e[0], e[1]]);
  const r1 = chart.convertToPixel({xAxisIndex: p.xi, yAxisIndex: p.yi}, [e[0] + e[2], e[1] + e[3]]);
  g.push({type: 'ellipse', z: 102, silent: true,
    shape: {cx: c[0], cy: c[1], rx: Math.abs(r1[0] - c[0]), ry: Math.abs(c[1] - r1[1])},
    style: {fill: 'transparent', stroke: '#e3201b', lineWidth: 2}});
}
ellipse(pRfA, ellipseRfA);
ellipse(pVidA, ellipseVidA);
ellipse(pRfB, ellipseRfB);
ellipse(pVidB, ellipseVidB);

chart.setOption({graphic: {elements: g}});
</script>
</body></html>
